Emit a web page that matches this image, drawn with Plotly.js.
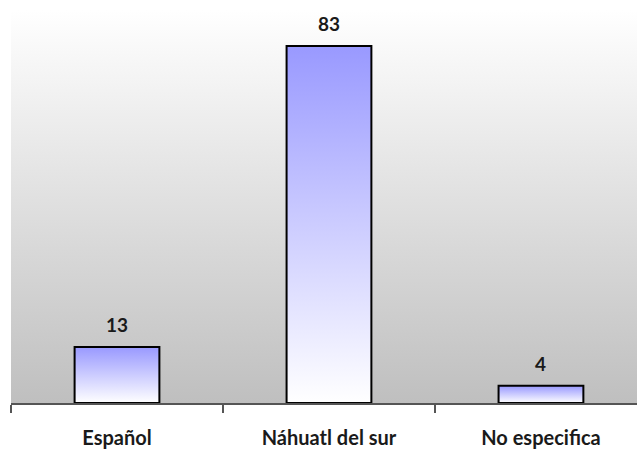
<!DOCTYPE html>
<html><head><meta charset="utf-8">
<script src="https://cdn.plot.ly/plotly-3.0.1.min.js"></script>
<style>body{margin:0;background:#fff}#c{width:637px;height:450px}</style>
</head><body><div id="c"></div>
<script>
const categories = ['Español', 'Náhuatl del sur', 'No especifica'];
const values = [13, 83, 4];
const positions = [0, 1, 2];

const YMAX = 91.4;
const BARW = 0.4;
const FONT = 'Lato, "Open Sans", sans-serif';

const traces = [];
// background gradient
traces.push({
  type: 'scatter', mode: 'none', hoverinfo: 'skip', showlegend: false,
  x: [-0.5, 2.5, 2.5, -0.5], y: [0, 0, YMAX, YMAX],
  fill: 'toself',
  fillgradient: {type: 'vertical', colorscale: [[0, '#bfbfbf'], [1, '#ffffff']]}
});
// bars: gradient fill with black outline
positions.forEach((p, i) => {
  traces.push({
    type: 'scatter', mode: 'lines', hoverinfo: 'skip', showlegend: false,
    x: [p - BARW/2, p + BARW/2, p + BARW/2, p - BARW/2, p - BARW/2],
    y: [0, 0, values[i], values[i], 0],
    fill: 'toself',
    line: {color: '#000000', width: 2},
    fillgradient: {type: 'vertical', colorscale: [[0, '#ffffff'], [1, '#9999ff']]}
  });
});

const annotations = positions.map((p, i) => ({
  x: p, y: values[i], xref: 'x', yref: 'y', text: String(values[i]),
  showarrow: false, yanchor: 'bottom', yshift: 9,
  font: {family: FONT, size: 19, color: '#1a1a1a', weight: 'bold'}
}));

const layout = {
  width: 637, height: 450,
  margin: {l: 11, r: 0, t: 10, b: 47},
  paper_bgcolor: '#ffffff', plot_bgcolor: 'rgba(0,0,0,0)',
  showlegend: false,
  xaxis: {
    type: 'linear', range: [-0.5, 2.453], fixedrange: true,
    tickmode: 'array', tickvals: positions, ticktext: categories,
    ticks: '', showgrid: false, zeroline: false,
    showline: true, linecolor: '#555555', linewidth: 1.5,
    ticklabelstandoff: 16,
    tickfont: {family: FONT, size: 20, color: '#1a1a1a', weight: 'bold'},
    minor: {tickmode: 'array', tickvals: [-0.5, 0.5, 1.5, 2.5], ticks: 'outside',
            ticklen: 8, tickcolor: '#555555', tickwidth: 1.5, showgrid: false}
  },
  yaxis: {
    range: [0, YMAX], visible: false, showgrid: false, zeroline: false, fixedrange: true
  },
  annotations: annotations
};

Plotly.newPlot('c', traces, layout, {displayModeBar: false, staticPlot: true});
</script>
</body></html>
